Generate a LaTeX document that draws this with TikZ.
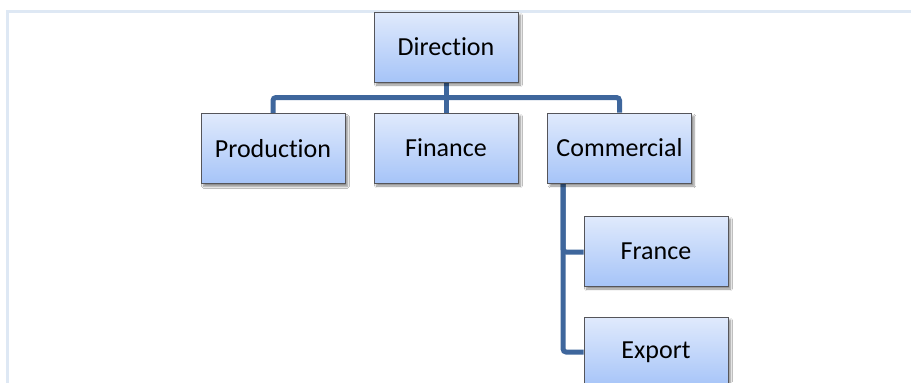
\documentclass[tikz,border=0pt]{standalone}
\usepackage{fontspec}
\setmainfont{Carlito}[Ligatures={NoCommon}]
\usetikzlibrary{shadows.blur,backgrounds}
\definecolor{boxtop}{RGB}{224,234,252}
\definecolor{boxbot}{RGB}{166,196,248}
\definecolor{boxline}{RGB}{85,85,90}
\definecolor{conncol}{RGB}{62,102,156}
\definecolor{framecol}{RGB}{222,232,244}
\tikzset{
  orgbox/.style={rectangle, draw=boxline, line width=0.8bp, top color=boxtop, bottom color=boxbot,
    minimum width=144bp, minimum height=70bp, inner sep=0pt,
    font=\fontsize{26bp}{30bp}\selectfont,
    blur shadow={shadow xshift=2.5bp, shadow yshift=-3bp, shadow blur steps=6, shadow opacity=45}},
  conn/.style={draw=conncol, line width=5bp, rounded corners=3bp},
}
\begin{document}
\begin{tikzpicture}[x=1bp,y=-1bp]
\useasboundingbox (0,0) rectangle (911,382);
\node[orgbox] (dir) at (446,47) {Direction};
\node[orgbox] (prod) at (273,148.5) {Production};
\node[orgbox] (fin) at (446,148) {Finance};
\node[orgbox] (com) at (619.5,148) {Commercial};
\node[orgbox] (fra) at (656,251) {France};
\node[orgbox] (exp) at (656,352) {Export};
\coordinate (bus) at (446,97.5);
\coordinate (cs) at ([xshift=16bp]com.south west);
\begin{scope}[on background layer]
\fill[white] (0,0) rectangle (911,382);
\draw[framecol, line width=2.5bp] (7.5,383) -- (7.5,11.5) -- (912,11.5);
\draw[conn] (dir.south) -- (bus);
\draw[conn] (prod.north) |- (bus) -| (com.north);
\draw[conn] (bus) -- (fin.north);
\draw[conn] (cs) |- ([yshift=-1bp]fra.west);
\draw[conn] (cs) |- (exp.west);
\end{scope}
\end{tikzpicture}
\end{document}
